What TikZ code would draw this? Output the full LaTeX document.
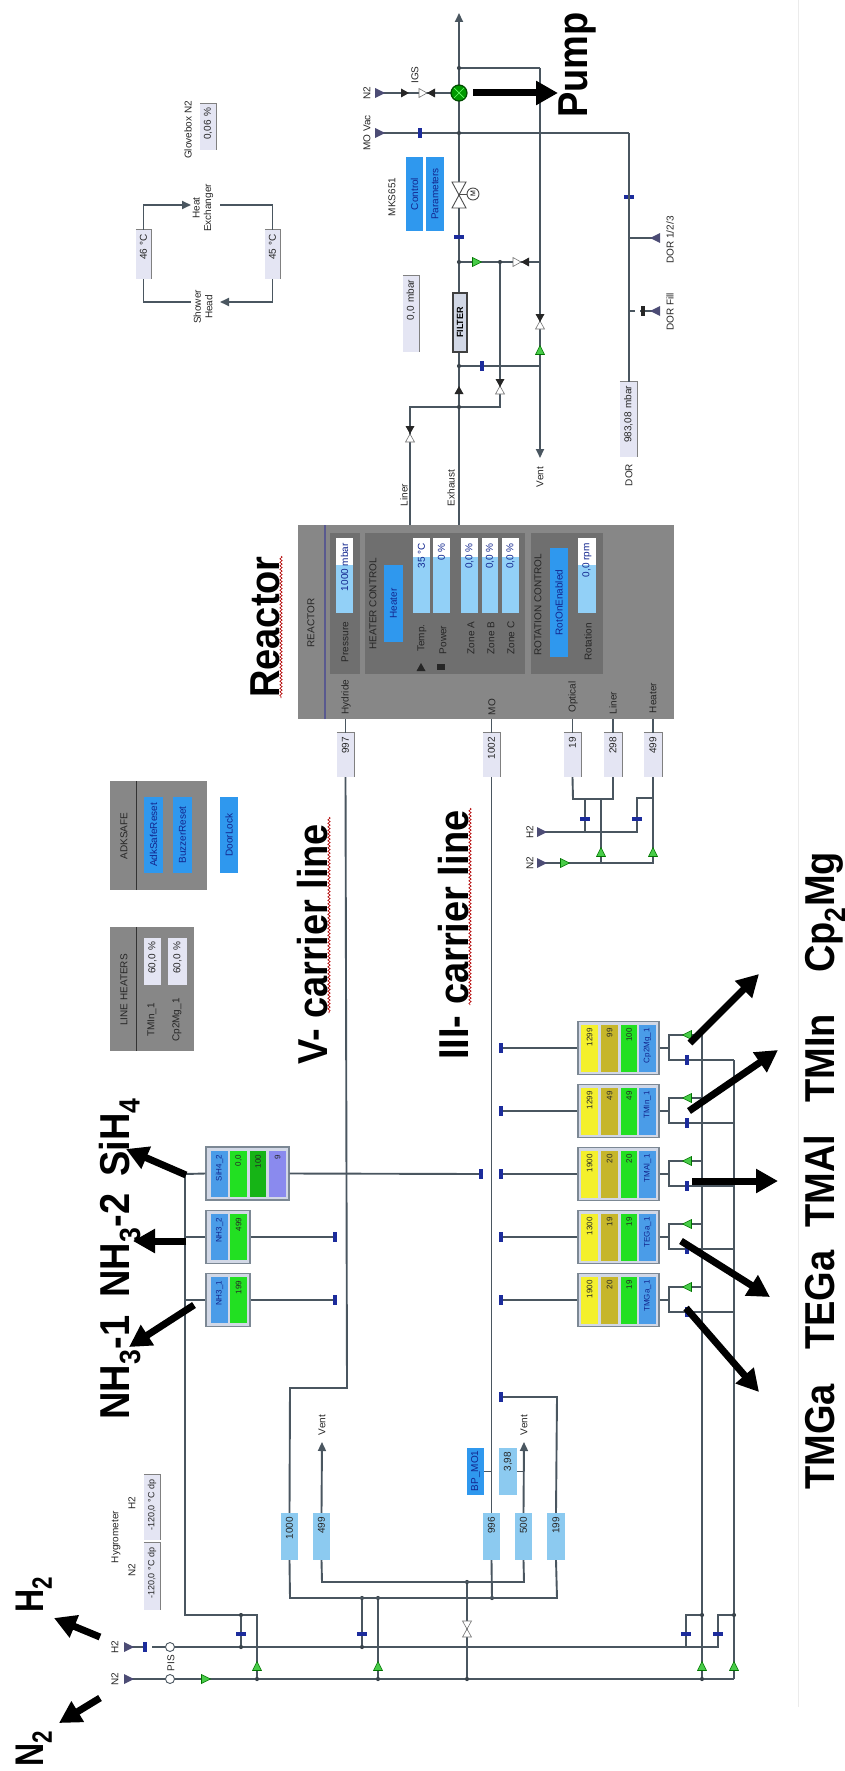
\documentclass[tikz,border=0pt]{standalone}
\usepackage{fontspec}
\setmainfont{Liberation Sans}
\usetikzlibrary{arrows.meta,shapes.geometric,decorations.pathmorphing,calc}
\definecolor{pipec}{HTML}{4A5660}
\definecolor{lilac}{HTML}{E4E5F3}
\definecolor{mfcblue}{HTML}{8CCAF0}
\definecolor{fieldblue}{HTML}{92D0F7}
\definecolor{btnblue}{HTML}{2F98EE}
\definecolor{txtblue}{HTML}{12268F}
\definecolor{rgray}{HTML}{878787}
\definecolor{pgray}{HTML}{6F6F6F}
\definecolor{markb}{HTML}{1C2C9C}
\definecolor{gfill}{HTML}{48CC48}
\definecolor{yel}{HTML}{F4F02C}
\definecolor{khaki}{HTML}{C6B62A}
\definecolor{lime}{HTML}{22E022}
\definecolor{dgreen}{HTML}{16B416}
\definecolor{purp}{HTML}{8A8AEE}
\definecolor{sblue}{HTML}{4A9CE8}
\definecolor{frame}{HTML}{7C8894}
\definecolor{frame2}{HTML}{D2D8E6}
\newcommand\sm{\fontsize{10}{11.5}\selectfont}
\newcommand\smm{\fontsize{8}{9}\selectfont}
\tikzset{
  pipe/.style={draw=pipec,line width=1.9pt},
  pipearrow/.style={pipe,-{Triangle[width=8pt,length=9pt]}},
  bigarrow/.style={draw=black,line width=7pt,-{Triangle[width=23pt,length=22pt]}},
  squiggle/.style={draw=red!70!black,line width=.6pt,decorate,decoration={snake,segment length=3.5pt,amplitude=1.2pt}},
  biglab/.style={rotate=90,anchor=base west,inner sep=0pt,font=\fontsize{38}{40}\selectfont\bfseries},
  lab/.style={rotate=90,inner sep=0pt,font=\sm,text=black!85,align=center},
  boxbase/.style={rotate=90,inner ysep=0pt,inner xsep=4pt,font=\sm},
  lilacbox/.style={boxbase,fill=lilac,align=right,text=black!85},
  mfcbox/.style={boxbase,fill=mfcblue,align=right,text=black!85},
  btnbox/.style={boxbase,fill=btnblue,align=center,text=txtblue},
  fieldbox/.style={boxbase,fill=fieldblue},
  panelbox/.style={boxbase,fill=pgray},
  reactorbox/.style={boxbase,fill=rgray},
  stackframe/.style={boxbase,fill=frame2,draw=frame,line width=1.2pt},
  stackcell/.style={boxbase,align=right,text=black!85,font=\smm},
  filterbox/.style={boxbase,fill=frame2,draw=black!75,line width=1.2pt,align=center,font=\fontsize{9}{10}\selectfont\bfseries},
  fieldtext/.style={rotate=90,anchor=east,inner sep=0pt,font=\sm,text=txtblue},
  pics/gtri/.style={code={\filldraw[draw=green!45!black,fill=gfill,line width=.6pt] (-4.5,-4.5) -- (4.5,0) -- (-4.5,4.5) -- cycle;}},
  pics/btri/.style={code={\fill[black!85] (-4,-4.5) -- (4,0) -- (-4,4.5) -- cycle;}},
  pics/wtri/.style={code={\filldraw[draw=black!55,fill=white,line width=.6pt] (-4,-4.5) -- (4,0) -- (-4,4.5) -- cycle;}},
  pics/src/.style={code={\fill[black!60!blue!40!gray] (-5,-5) -- (5,0) -- (-5,5) -- cycle;}},
  pics/mark/.style={code={\fill[markb] (-1.7,-5) rectangle (1.7,5);}},
  pics/pis/.style={code={\filldraw[draw=pipec,fill=white,line width=.9pt] (0,0) circle (4.5);}},
  pics/jdot/.style={code={\fill[pipec!80!black] (0,0) circle (2.1);}},
}
% style, name, x1, x2, y1, y2, text
\newcommand\fbx[7]{%
  \pgfmathsetmacro\myCx{(#3+#4)/2}\pgfmathsetmacro\myCy{(#5+#6)/2}%
  \pgfmathsetmacro\myW{#4-#3}\pgfmathsetmacro\myH{#6-#5}\pgfmathsetmacro\myT{#6-#5-8}%
  \node[#1,minimum width=\myH pt,minimum height=\myW pt,text width=\myT pt] (#2) at (\myCx,\myCy) {#7};}
% border on the top and the right side
\newcommand\edgeb[1]{\draw[black!50,line width=.9pt] (#1.north east) -- (#1.south east) -- (#1.south west);}
% name, x1, x2, y of white end, text
\newcommand\fld[5]{%
  \fbx{fieldbox}{#1}{#2}{#3}{538}{613}{}%
  \fill[white] (#2,538) rectangle (#3,#4);%
  \pgfmathsetmacro\myCx{(#2+#3)/2}%
  \node[fieldtext] (#1-t) at (\myCx,543) {#5};}
\newcommand\wob[3]{\draw[squiggle] (#1,#2) -- (#1,#3);}
\begin{document}
\begin{tikzpicture}[x=1pt,y=-1pt]
\useasboundingbox (0,0) rectangle (844,1771);
\coordinate (fa) at (798,0);\coordinate (fb) at (798,1707);
\draw[black!8,line width=.7pt] (fa) -- (fb);

% ---------- reactor box first
\fbx{reactorbox}{reactor}{298}{674}{525}{719}{}
\draw[black!30!blue!30!gray,line width=1.6pt] (reactor.north west -| 325,0) -- (reactor.north east -| 325,0);
\fbx{panelbox}{pnlP}{330}{360}{533}{674}{}
\fbx{panelbox}{pnlH}{365}{525}{533}{674}{}
\fbx{panelbox}{pnlR}{531}{603}{533}{674}{}

% ---------- exhaust side coordinates
\coordinate (exit) at (459,13);
\coordinate (c1) at (459,68);\coordinate (c2) at (540,68);
\coordinate (pumpc) at (459,93);
\coordinate (n2a) at (380,93);
\coordinate (vac1) at (380,133);\coordinate (vacj) at (459,133);\coordinate (vac2) at (629,133);
\coordinate (vent3) at (540,458);
\coordinate (b1) at (459,262);\coordinate (b2) at (500,262);\coordinate (b3) at (540,262);
\coordinate (d1) at (459,366);\coordinate (d2) at (540,366);
\coordinate (e1) at (410,407);\coordinate (e2) at (500,407);\coordinate (e3) at (459,407);
\coordinate (dor1) at (629,238);\coordinate (dor1e) at (655,238);
\coordinate (dor2) at (629,311);\coordinate (dor2a) at (635,311);\coordinate (dor2b) at (640,311);\coordinate (dor2e) at (655,311);
\draw[pipearrow] (reactor.east -| exit) -- (exit);
\draw[pipe] (reactor.east -| e1) -- (e1) -- (e2) -- (b2);
\draw[pipe] (c1) -- (c2);
\draw[pipearrow] (c2) -- (vent3);
\draw[pipe] (n2a) -- (pumpc);
\draw[pipe] (vac1) -- (vac2);
\draw[pipe] (b1) -- (b3);
\draw[pipe] (d1) -- (d2);
\draw[pipe] (dor1) -- (dor1e);
\draw[pipe] (dor2) -- (dor2a);\draw[pipe] (dor2b) -- (dor2e);
\pic at (n2a) {src};\pic at (vac1) {src};
\pic[rotate=180] at (dor1e) {src};\pic[rotate=180] at (dor2e) {src};
\pic at (405,93) {btri};\pic at (423,93) {wtri};\pic[rotate=180] at (431,93) {btri};
\pic at (420,133) {mark};
\pic[rotate=90] at (629,197) {mark};
\fill[black!85] (641,306) rectangle (645,316);
\pic[rotate=90] at (459,237) {mark};
\pic at (482,366) {mark};
\pic at (477,262) {gtri};
\pic at (517,262) {wtri};\pic[rotate=180] at (525,262) {btri};
\pic[rotate=90] at (459,390) {btri};
\pic[rotate=90] at (500,390) {wtri};\pic[rotate=-90] at (500,383) {btri};
\pic[rotate=90] at (410,438) {wtri};\pic[rotate=-90] at (410,430) {btri};
\pic[rotate=90] at (540,325) {wtri};\pic[rotate=-90] at (540,318) {btri};
\pic[rotate=90] at (540,350) {gtri};
\foreach \j in {vacj,e3,b2,d1,b1,c1}{\pic at (\j) {jdot};}
% butterfly valve with motor
\filldraw[draw=black!70,fill=white,line width=.9pt] (452,182) -- (466,182) -- (452,208) -- (466,208) -- cycle;
\draw[black!70,line width=.9pt] (459,194) -- (467,194);
\filldraw[draw=black!70,fill=white,line width=.9pt] (473,194) circle (6);
\node[inner sep=0pt,rotate=90,font=\fontsize{7}{8}\selectfont] (motor) at (473,194) {M};
% pump junction
\filldraw[draw=green!30!black,fill=green!60!black,line width=1.2pt] (pumpc) circle (8);
\draw[green!60!white,line width=.7pt] (454,88) -- (464,98) (454,98) -- (464,88);

\fbx{filterbox}{filter}{453}{467}{293}{352}{FILTER}
\fbx{lilacbox}{pr00}{403}{419}{276}{352}{0,0 mbar}\edgeb{pr00}
\fbx{lilacbox}{pr983}{620}{637}{382}{457}{983,08 mbar}\edgeb{pr983}
\draw[pipe] (vac2) -- (pr983.east -| vac2);
\fbx{btnbox}{bCtl}{406}{423}{157}{231}{Control}
\fbx{btnbox}{bPar}{426}{444}{157}{231}{Parameters}
\node[lab] (lN2a) at (367,93) {N2};
\node[lab] (lIGS) at (415,75) {IGS};
\node[lab] (lVac) at (367,133) {MO Vac};
\node[lab] (lMKS) at (392,197) {MKS651};
\node[lab] (lD1) at (670,240) {DOR 1/2/3};
\node[lab] (lD2) at (670,312) {DOR Fill};
\node[lab] (lDOR) at (629,475) {DOR};
\node[lab] (lV3) at (540,477) {Vent};
\node[lab] (lLin) at (404,495) {Liner};
\node[lab] (lExh) at (451,488) {Exhaust};

% ---------- temperature loop
\fbx{lilacbox}{b46}{136}{151}{230}{279}{46 °C}\edgeb{b46}
\fbx{lilacbox}{b45}{265}{280}{230}{279}{45 °C}\edgeb{b45}
\node[lab] (hx) at (203,208) {Heat\\Exchanger};
\node[lab] (sh) at (203,307) {Shower\\Head};
\coordinate (hxL) at (191,205);\coordinate (hxR) at (220,205);\coordinate (shL) at (191,302);\coordinate (shR) at (220,302);
\draw[pipearrow] (b46.east) |- (hxL);
\draw[pipe] (b45.east) |- (hxR);
\draw[pipe] (b46.west) |- (shL);
\draw[pipearrow] (b45.west) |- (shR);
\node[lab] (lGb) at (188,130) {Glovebox N2};
\fbx{lilacbox}{bGb}{200}{216}{104}{150}{0,06 \%}\edgeb{bGb}

% ---------- reactor contents
\node[lab] (lRe) at (311,623) {REACTOR};
\fld{fP}{336}{353}{565}{1000 mbar}
\fld{fT}{413}{430}{557}{35 °C}
\fld{fW}{433}{450}{557}{0 \%}
\fld{fA}{461}{478}{557}{0,0 \%}
\fld{fB}{482}{498}{557}{0,0 \%}
\fld{fC}{502}{519}{557}{0,0 \%}
\fld{fR}{578}{596}{565}{0,0 rpm}
\fbx{btnbox}{bHeat}{384}{403}{565}{642}{Heater}
\fbx{btnbox}{bRot}{550}{568}{548}{657}{RotOnEnabled}
\node[lab] (lPr) at (345,642) {Pressure};
\node[lab] (lHC) at (373,604) {HEATER CONTROL};
\node[lab] (lTe) at (422,638) {Temp.};
\node[lab] (lPo) at (443,640) {Power};
\node[lab] (lZA) at (471,638) {Zone A};
\node[lab] (lZB) at (491,638) {Zone B};
\node[lab] (lZC) at (511,638) {Zone C};
\node[lab] (lRC) at (538,605) {ROTATION CONTROL};
\node[lab] (lRo) at (588,642) {Rotation};
\pic[rotate=90] at (421,667) {btri};
\fill[black!85] (437,664) rectangle (445,670);
\node[lab] (lHy) at (346,697) {Hydride};
\node[lab] (lMO) at (492,707) {MO};
\node[lab] (lOp) at (573,697) {Optical};
\node[lab] (lLi) at (613,703) {Liner};
\node[lab] (lHe) at (653,698) {Heater};

% ---------- reactor inlet boxes
\fbx{lilacbox}{m997}{337}{354}{733}{777}{997}\edgeb{m997}
\fbx{lilacbox}{m1002}{483}{500}{733}{777}{1002}\edgeb{m1002}
\fbx{lilacbox}{m19}{564}{581}{733}{777}{19}\edgeb{m19}
\fbx{lilacbox}{m298}{604}{622}{733}{777}{298}\edgeb{m298}
\fbx{lilacbox}{m499}{644}{662}{733}{777}{499}\edgeb{m499}
\foreach \m in {m997,m1002,m19,m298,m499}{\draw[pipe] (reactor.west -| \m.center) -- (\m.east);}
\coordinate (o1) at (573,799);\coordinate (o2) at (613,799);\coordinate (o3) at (601,799);\coordinate (o4) at (585,799);
\coordinate (p1) at (653,798);\coordinate (p2) at (637,798);
\coordinate (hh) at (542,832);\coordinate (hh1) at (585,832);\coordinate (hh2) at (637,832);
\coordinate (nn) at (542,863);\coordinate (nn1) at (601,863);\coordinate (nn2) at (653,863);
\draw[pipe] (m19.west) -- (o1) -- (o2) -- (m298.west);
\draw[pipe] (o3) -- (nn1);
\draw[pipe] (o4) -- (hh1);
\draw[pipe] (m499.west) -- (nn2) -- (nn);
\draw[pipe] (p1) -- (p2) -- (hh2) -- (hh);
\pic at (hh) {src};\pic at (nn) {src};
\pic at (565,863) {gtri};
\pic[rotate=90] at (601,852) {gtri};\pic[rotate=90] at (653,852) {gtri};
\pic[rotate=90] at (585,819) {mark};\pic[rotate=90] at (637,819) {mark};
\node[lab] (lH2r) at (530,832) {H2};
\node[lab] (lN2r) at (530,863) {N2};

% ---------- safety and heaters panels
\fbx{reactorbox}{adk}{110}{207}{781}{890}{}
\draw[black!80,line width=1pt] (136,781) -- (136,890);
\node[lab] (lAdk) at (124,836) {ADKSAFE};
\fbx{btnbox}{bAdk}{144}{163}{797}{873}{AdkSafeReset}
\fbx{btnbox}{bBuz}{173}{192}{797}{873}{BuzzerReset}
\fbx{btnbox}{bDoor}{220}{238}{797}{873}{DoorLock}
\fbx{reactorbox}{lhp}{110}{194}{927}{1051}{}
\draw[black!80,line width=1pt] (136,927) -- (136,1051);
\node[lab] (lLH) at (124,990) {LINE HEATERS};
\fbx{lilacbox}{fLH1}{144}{161}{938}{985}{60,0 \%}
\fbx{lilacbox}{fLH2}{168}{187}{938}{985}{60,0 \%}
\node[lab] (lTI) at (152,1020) {TMIn\_1};
\node[lab] (lCM) at (177,1020) {Cp2Mg\_1};

% ---------- gas mains
\coordinate (N2s) at (129,1679);\coordinate (H2s) at (129,1647);
\coordinate (N2e) at (734,1679);\coordinate (H2e) at (718,1647);
\coordinate (H2g) at (152,1647);\coordinate (H2m) at (145,1647);
\coordinate (bus) at (185,1174);\coordinate (busb) at (185,1615);\coordinate (busc) at (257,1615);\coordinate (busd) at (257,1679);
\coordinate (bh1) at (241,1615);\coordinate (bh2) at (241,1647);
\coordinate (V1) at (347,1388);\coordinate (V2) at (290,1388);
\coordinate (L1) at (290,1598);\coordinate (L2) at (557,1598);
\coordinate (K1) at (322,1582);\coordinate (K2) at (524,1582);
\coordinate (s1) at (362,1598);\coordinate (s2) at (362,1647);
\coordinate (s3) at (378,1598);\coordinate (s4) at (378,1679);
\coordinate (t1) at (467,1582);\coordinate (t2) at (467,1679);
\coordinate (q1) at (492,1598);
\coordinate (R1) at (702,1033);\coordinate (R2) at (702,1679);
\coordinate (S1) at (734,1060);\coordinate (S2) at (734,1679);
\coordinate (u1) at (686,1647);\coordinate (u2) at (686,1615);\coordinate (u3) at (702,1615);
\coordinate (w2) at (718,1615);\coordinate (w3) at (734,1615);
\coordinate (ventA) at (322,1442);\coordinate (ventB) at (524,1442);
\coordinate (z1) at (557,1397);\coordinate (z2) at (501,1397);
\draw[pipe] (N2s) -- (N2e);
\draw[pipe] (H2s) -- (H2m);\draw[pipe] (H2g) -- (H2e) -- (w2) -- (w3);
\draw[pipe] (bus) -- (busb) -- (busc) -- (busd);
\draw[pipe] (bh1) -- (bh2);
\draw[pipe] (s1) -- (s2);\draw[pipe] (s3) -- (s4);
\draw[pipe] (t1) -- (t2);
\draw[pipe] (R1) -- (R2);\draw[pipe] (S1) -- (S2);
\draw[pipe] (u1) -- (u2) -- (u3);
\pic at (N2s) {src};\pic at (H2s) {src};
\pic at (H2m) {mark};
\pic at (170,1679) {pis};\pic at (170,1647) {pis};
\pic at (206,1679) {gtri};
\foreach \x in {257,378,702,734}{\pic[rotate=90] at (\x,1666) {gtri};}
\foreach \x in {241,362,686,718}{\pic[rotate=90] at (\x,1634) {mark};}
\pic[rotate=90] at (467,1633) {wtri};\pic[rotate=-90] at (467,1625) {wtri};
\foreach \j in {s1,s3,t1,q1,bh1,bh2,s2,s4,t2,busd,u3,w3,R2}{\pic at (\j) {jdot};}
\node[lab] (lN2m) at (115,1679) {N2};
\node[lab] (lH2m) at (115,1647) {H2};
\node[lab] (lPIS) at (171,1663) {PIS};

% ---------- dilution MFCs
\fbx{mfcbox}{f1000}{281}{298}{1513}{1560}{1000}
\fbx{mfcbox}{f499}{313}{330}{1513}{1560}{499}
\fbx{mfcbox}{f996}{483}{500}{1513}{1560}{996}
\fbx{mfcbox}{f500}{515}{532}{1513}{1560}{500}
\fbx{mfcbox}{f199}{547}{565}{1513}{1560}{199}
\draw[pipe] (m997.west) -- (V1) -- (V2) -- (f1000.east);
\draw[pipe] (f1000.west) -- (L1) -- (L2) -- (f199.west);
\draw[pipe] (f499.west) -- (K1) -- (K2) -- (f500.west);
\draw[pipe] (f996.west) -- (q1);
\draw[pipe] (m1002.west) -- (f996.east);
\draw[pipearrow] (f499.east) -- (ventA);
\draw[pipearrow] (f500.east) -- (ventB);
\draw[pipe] (f199.east) -- (z1) -- (z2);
\pic at (z2) {mark};
\node[lab] (lVa) at (322,1425) {Vent};
\node[lab] (lVb) at (524,1425) {Vent};
\fbx{mfcbox}{f398}{499}{517}{1448}{1495}{3,98}
\fbx{btnbox}{bBP}{467}{484}{1448}{1495}{BP\_MO1}
\draw[pipe] (f398.south) -- (f398.south -| ventB);
\draw[pipe] (bBP.south) -- (bBP.south -| q1);

% ---------- hygrometer
\node[lab] (lHyg) at (116,1537) {Hygrometer};
\node[lab] (lhN2) at (132,1570) {N2};
\node[lab] (lhH2) at (132,1503) {H2};
\fbx{lilacbox,font=\fontsize{9}{10}\selectfont}{hH2}{144}{160}{1475}{1540}{-120,0 °C dp}\edgeb{hH2}
\fbx{lilacbox,font=\fontsize{9}{10}\selectfont}{hN2}{144}{160}{1543}{1610}{-120,0 °C dp}\edgeb{hN2}

% ---------- metalorganic sources
\foreach \n/\yc/\a/\b/\c/\lab in {tmga/1300/1900/20/19/TMGa\_1,tega/1237/1300/19/19/TEGa\_1,tmal/1174/1900/20/20/TMAl\_1,tmin/1111/1299/49/49/TMIn\_1,cpmg/1048/1299/99/100/Cp2Mg\_1}{
  \pgfmathsetmacro\yt{\yc-26.5}\pgfmathsetmacro\yb{\yc+26.5}
  \pgfmathsetmacro\ya{\yc-23.5}\pgfmathsetmacro\yz{\yc+23.5}
  \pgfmathsetmacro\yu{\yc-13}\pgfmathsetmacro\yd{\yc+12}
  \fbx{stackframe}{\n-s}{578}{659}{\yt}{\yb}{}
  \fbx{stackcell,fill=yel}{\n-1}{581}{598}{\ya}{\yz}{\a}
  \fbx{stackcell,fill=khaki}{\n-2}{601}{618}{\ya}{\yz}{\b}
  \fbx{stackcell,fill=lime}{\n-3}{621}{637}{\ya}{\yz}{\c}
  \fbx{stackcell,fill=sblue,text=txtblue}{\n-4}{639}{656}{\ya}{\yz}{\lab}
  \coordinate (\n-end) at (501,\yc);\coordinate (\n-j) at (669,\yc);
  \coordinate (\n-a) at (702,\yu);\coordinate (\n-b) at (734,\yd);
  \draw[pipe] (\n-s.north) -- (\n-end);
  \draw[pipe] (\n-s.south) -- (\n-j);
  \draw[pipe] (\n-j) |- (\n-a);
  \draw[pipe] (\n-j) |- (\n-b);
  \pic at (\n-end) {mark};
  \pic[rotate=180] at (687,\yu) {gtri};
  \pic at (687,\yd) {mark};
}

% ---------- hydride sources
\foreach \n/\yc/\v/\lab in {nha/1300/199/NH3\_1,nhb/1237/499/NH3\_2}{
  \pgfmathsetmacro\yt{\yc-26.5}\pgfmathsetmacro\yb{\yc+26.5}
  \pgfmathsetmacro\ya{\yc-23}\pgfmathsetmacro\yz{\yc+23}
  \fbx{stackframe}{\n-s}{206}{250}{\yt}{\yb}{}
  \fbx{stackcell,fill=sblue,text=txtblue}{\n-1}{211}{228}{\ya}{\yz}{\lab}
  \fbx{stackcell,fill=lime}{\n-2}{230}{247}{\ya}{\yz}{\v}
  \coordinate (\n-l) at (185,\yc);\coordinate (\n-end) at (335,\yc);
  \draw[pipe] (\n-l) -- (\n-s.north);
  \draw[pipe] (\n-s.south) -- (\n-end);
  \pic at (\n-end) {mark};
}
\fbx{stackframe}{si-s}{206}{289}{1147}{1200}{}
\fbx{stackcell,fill=sblue,text=txtblue}{si-1}{211}{228}{1151}{1197}{SiH4\_2}
\fbx{stackcell,fill=lime}{si-2}{230}{247}{1151}{1197}{0,0}
\fbx{stackcell,fill=dgreen}{si-3}{250}{266}{1151}{1197}{100}
\fbx{stackcell,fill=purp}{si-4}{269}{286}{1151}{1197}{9}
\coordinate (si-end) at (481,1174);
\draw[pipe] (bus) -- (si-s.north);
\draw[pipe] (si-s.south) -- (si-end);
\pic at (si-end) {mark};

% ---------- large annotations
\node[biglab] (tPump) at (587,118) {\scalebox{1}[1.1]{Pump}};
\node[biglab] (tReactor) at (279,698) {\scalebox{1}[1.1]{Reactor}};
\node[biglab] (tV) at (327,1065) {\scalebox{1}[1.1]{V- carrier line}};
\node[biglab] (tIII) at (468,1060) {\scalebox{1}[1.1]{III- carrier line}};
\node[biglab] (tNa) at (129,1420) {\scalebox{1}[1.1]{NH\textsubscript{3}-1}};
\node[biglab] (tNb) at (129,1298) {\scalebox{1}[1.1]{NH\textsubscript{3}-2}};
\node[biglab] (tSi) at (129,1177) {\scalebox{1}[1.1]{SiH\textsubscript{4}}};
\node[biglab] (tH) at (43,1613) {\scalebox{1}[1.25]{\fontsize{32}{34}\selectfont H\textsubscript{2}}};
\node[biglab] (tN) at (43,1767) {\scalebox{1}[1.25]{\fontsize{32}{34}\selectfont N\textsubscript{2}}};
\node[biglab] (tTMGa) at (834,1490) {\scalebox{1}[1.1]{TMGa}};
\node[biglab] (tTEGa) at (834,1350) {\scalebox{1}[1.1]{TEGa}};
\node[biglab] (tTMAl) at (834,1228) {\scalebox{1}[1.1]{TMAl}};
\node[biglab] (tTMIn) at (834,1103) {\scalebox{1}[1.1]{TMIn}};
\node[biglab] (tCp) at (834,973) {\scalebox{1}[1.1]{Cp\textsubscript{2}Mg}};
\wob{281}{556}{698}
\wob{329}{817}{1013}
\wob{470}{808}{1005}

\coordinate (aPs) at (473,93);\coordinate (aPe) at (558,93);
\coordinate (aHs) at (100,1637);\coordinate (aHe) at (54,1618);
\coordinate (aNs) at (100,1698);\coordinate (aNe) at (59,1723);
\coordinate (aN1s) at (194,1305);\coordinate (aN1e) at (129,1347);
\coordinate (aN2s) at (186,1241);\coordinate (aN2e) at (133,1241);
\coordinate (aSis) at (186,1175);\coordinate (aSie) at (126,1149);
\coordinate (aCps) at (690,1043);\coordinate (aCpe) at (759,974);
\coordinate (aTIs) at (689,1111);\coordinate (aTIe) at (778,1050);
\coordinate (aTAs) at (692,1181);\coordinate (aTAe) at (778,1181);
\coordinate (aTEs) at (681,1241);\coordinate (aTEe) at (770,1297);
\coordinate (aTGs) at (686,1308);\coordinate (aTGe) at (759,1392);
\foreach \p in {aP,aH,aN,aN1,aN2,aSi,aCp,aTI,aTA,aTE,aTG}{\draw[bigarrow] (\p s) -- (\p e);}
\end{tikzpicture}
\end{document}
